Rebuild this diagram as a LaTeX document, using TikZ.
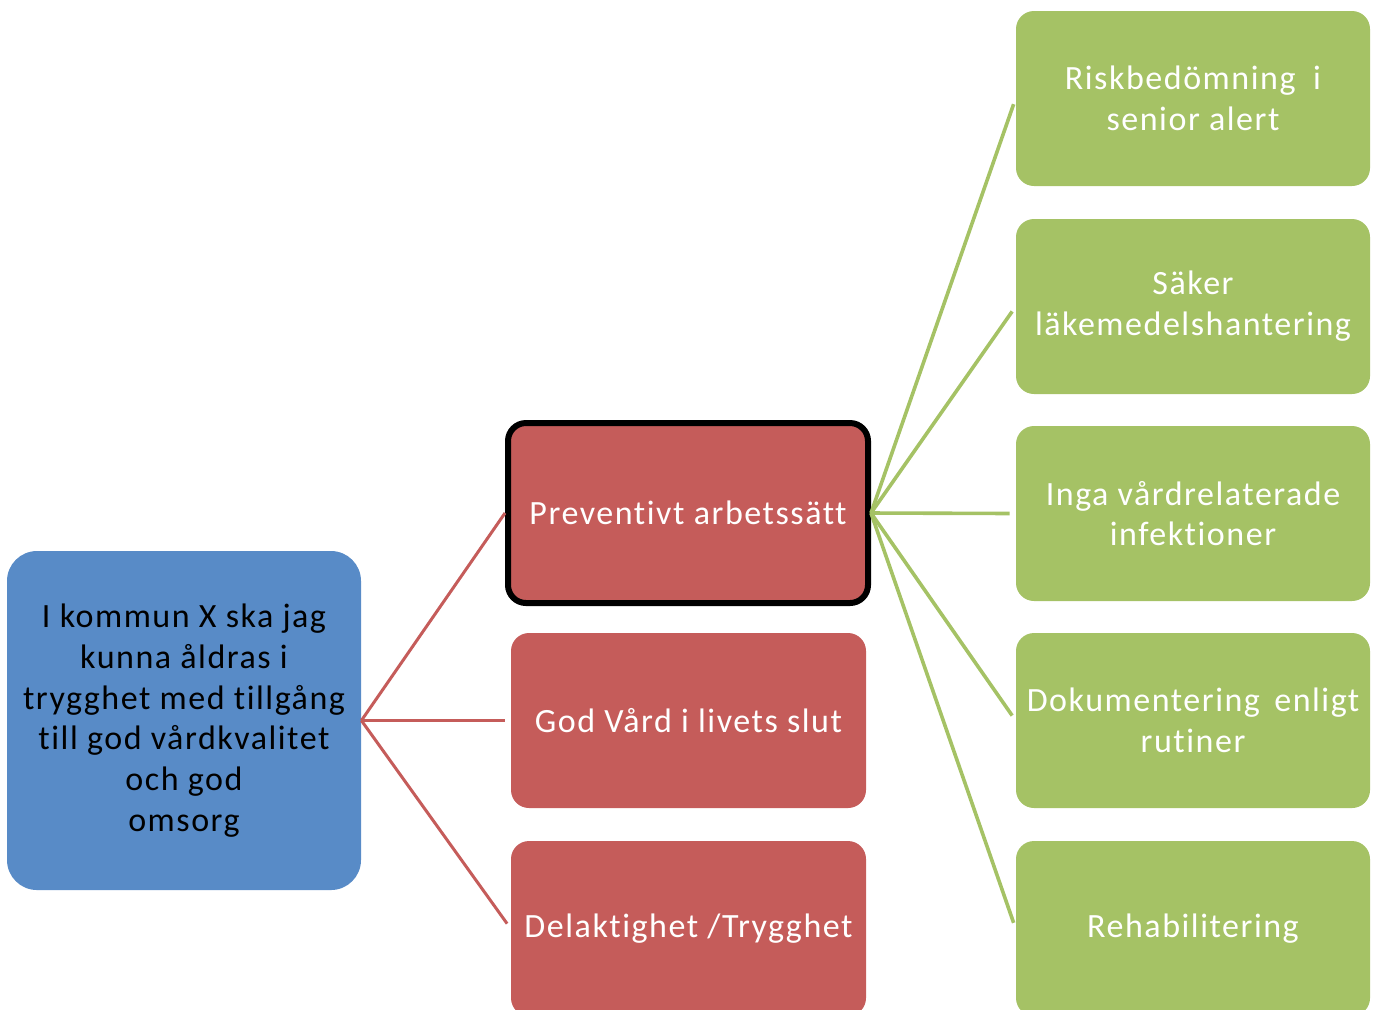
\documentclass[tikz,border=0pt]{standalone}
\usepackage{fontspec}
\setmainfont{Carlito}[LetterSpace=4.5, Ligatures=NoCommon]
\definecolor{cblue}{RGB}{88,139,199}
\definecolor{cred}{RGB}{197,92,90}
\definecolor{cgreen}{RGB}{165,194,101}
\begin{document}
\begin{tikzpicture}[x=0.5pt,y=-0.5pt,
  every node/.style={font=\fontsize{17}{20.4}\selectfont, align=center, inner sep=2pt},
  bluebox/.style={fill=cblue, text=black, rounded corners=15pt, minimum width=177pt, minimum height=169.5pt},
  redbox/.style={fill=cred, text=white, rounded corners=9pt, minimum width=177.5pt, minimum height=87.5pt},
  greenbox/.style={fill=cgreen, text=white, rounded corners=9pt, minimum width=177pt, minimum height=87.5pt},
  redline/.style={draw=cred, line width=1.5pt},
  greenline/.style={draw=cgreen, line width=1.8pt}]
\useasboundingbox (0,0) rectangle (1379,1009);
\clip (0,0) rectangle (1379,1009);
\node[bluebox] (goal) at (184,720.5) {I kommun X ska jag\\kunna åldras i\\trygghet med tillgång\\till god vårdkvalitet\\och god\\omsorg};
\node[redbox, draw=black, line width=3pt, minimum width=180pt, minimum height=90pt] (prev) at (688,513) {Preventivt arbetssätt};
\node[redbox] (god) at (688.5,720.5) {God Vård i livets slut};
\node[redbox] (del) at (688.5,928.5) {Delaktighet /Trygghet};
\node[greenbox] (g1) at (1193,98.5) {Riskbedömning\hspace{0.25em} i\\senior alert};
\node[greenbox] (g2) at (1193,306.5) {Säker\\läkemedelshantering};
\node[greenbox] (g3) at (1193,513.5) {Inga vårdrelaterade\\infektioner};
\node[greenbox] (g4) at (1193,720.5) {Dokumentering\hspace{0.15em} enligt\\rutiner};
\node[greenbox] (g5) at (1193,928.5) {Rehabilitering};
\draw[redline] (goal.east) -- (prev.west);
\draw[redline, shorten >=3pt] (goal.east) -- (god.west);
\draw[redline, shorten >=3pt] (goal.east) -- (del.west);
\foreach \g in {g1,g2,g3,g4,g5}
  \draw[greenline, shorten >=3pt] (prev.east) -- (\g.west);
\end{tikzpicture}
\end{document}
